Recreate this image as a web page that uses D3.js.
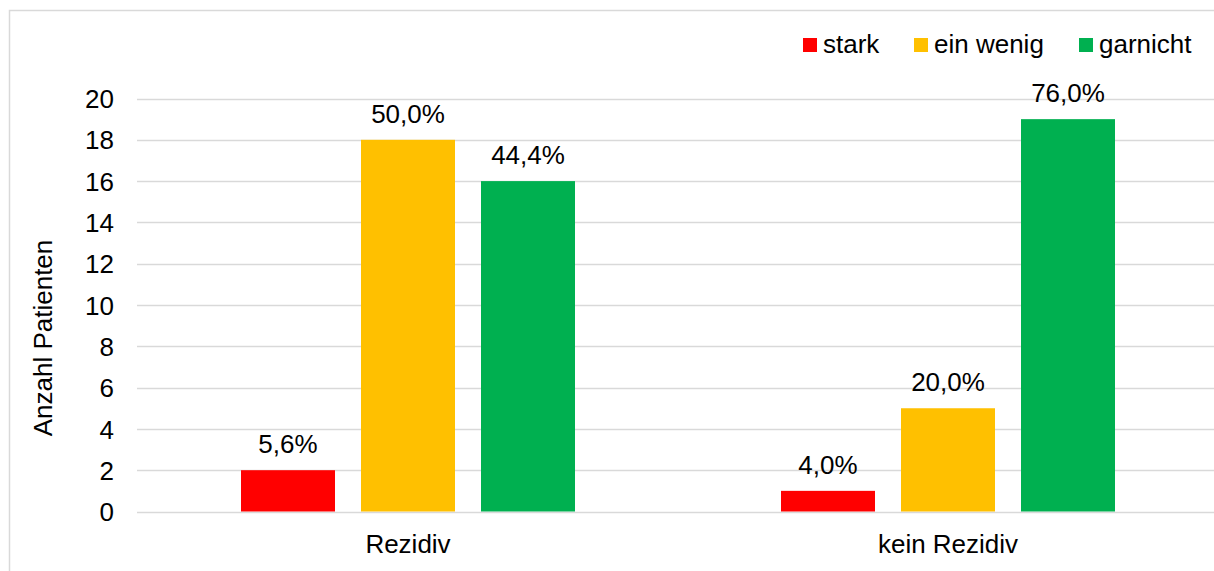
<!DOCTYPE html>
<html>
<head>
<meta charset="utf-8">
<script src="https://cdn.jsdelivr.net/npm/d3@7"></script>
<style>
  html, body { margin: 0; padding: 0; background: #fff; }
  svg { display: block; font-family: "Liberation Sans", Arial, sans-serif; }
</style>
</head>
<body>
<svg id="chart" width="1214" height="571"></svg>
<script>
// Patient counts per group and intensity
const categories = ["Rezidiv", "kein Rezidiv"];
const seriesNames = ["stark", "ein wenig", "garnicht"];
const stark = [2, 1];
const einWenig = [18, 5];
const garnicht = [16, 19];
const yTicks = [0, 2, 4, 6, 8, 10, 12, 14, 16, 18, 20];
const colors = ["#FF0000", "#FFC000", "#00B050"];

const seriesValues = [stark, einWenig, garnicht];

const FONT = "Liberation Sans, Arial, sans-serif";
const FS = 26;

const svg = d3.select("#chart");
const W = 1214, H = 571;

// outer frame
svg.append("rect")
  .attr("x", 9.5).attr("y", 10.5)
  .attr("width", W + 10).attr("height", H + 10)
  .attr("fill", "#fff").attr("stroke", "#D9D9D9").attr("stroke-width", 1.5);

const plot = { left: 138, right: 1218, top: 98.5, bottom: 511.5 };

const x0 = d3.scaleBand().domain(categories).range([plot.left, plot.right]).paddingInner(0).paddingOuter(0);
const x1 = d3.scaleBand().domain(seriesNames).range([0, x0.bandwidth()])
  .paddingInner(26 / 120).paddingOuter(103 / 120);
const y = d3.scaleLinear().domain([0, 20]).range([plot.bottom, plot.top]);

// gridlines
svg.append("g")
  .selectAll("line").data(yTicks).join("line")
  .attr("x1", 137).attr("x2", W)
  .attr("y1", d => Math.round(y(d)) + 0.5).attr("y2", d => Math.round(y(d)) + 0.5)
  .attr("stroke", "#D9D9D9").attr("stroke-width", 1.3);

// y axis labels
const yAxis = d3.axisLeft(y).tickValues(yTicks).tickSize(0).tickPadding(0);
const gy = svg.append("g").attr("transform", "translate(114,0)").call(yAxis);
gy.select(".domain").remove();
gy.selectAll("text")
  .attr("font-family", FONT)
  .attr("font-size", FS).attr("fill", "#000").attr("dy", "0.35em");

// x axis labels
const xAxis = d3.axisBottom(x0).tickSize(0).tickPadding(0);
const gx = svg.append("g").attr("transform", `translate(0,${plot.bottom})`).call(xAxis);
gx.select(".domain").remove();
gx.selectAll("text")
  .attr("font-family", FONT)
  .attr("font-size", FS).attr("fill", "#000").attr("y", 41).attr("dy", 0);

// axis title
svg.append("text")
  .attr("transform", "translate(52,338) rotate(-90)")
  .attr("text-anchor", "middle")
  .attr("font-family", FONT)
  .attr("font-size", FS).attr("fill", "#000")
  .text("Anzahl Patienten");

// bars and percentage labels
const fmt = v => d3.format(".1f")(v).replace(".", ",") + "%";
const groups = svg.append("g").selectAll("g").data(categories).join("g")
  .attr("transform", d => `translate(${x0(d)},0)`);

groups.each(function(cat, ci) {
  const total = d3.sum(seriesValues, s => s[ci]);
  const items = seriesNames.map((name, si) => ({ name, si, v: seriesValues[si][ci], pct: 100 * seriesValues[si][ci] / total }));
  const g = d3.select(this);
  g.selectAll("rect").data(items).join("rect")
    .attr("x", d => x1(d.name))
    .attr("y", d => y(d.v))
    .attr("width", x1.bandwidth())
    .attr("height", d => y(0) - y(d.v))
    .attr("fill", d => colors[d.si]);
  g.selectAll("text").data(items).join("text")
    .attr("x", d => x1(d.name) + x1.bandwidth() / 2)
    .attr("y", d => y(d.v) - 17)
    .attr("text-anchor", "middle")
    .attr("font-family", FONT)
    .attr("font-size", FS).attr("fill", "#000")
    .text(d => fmt(d.pct));
});

// legend
const legendX = [803, 914, 1079];
const legend = svg.append("g").selectAll("g").data(seriesNames).join("g")
  .attr("transform", (d, i) => `translate(${legendX[i]},38)`);
legend.append("rect").attr("width", 14).attr("height", 14).attr("fill", (d, i) => colors[i]);
legend.append("text").attr("x", 20).attr("y", 15)
  .attr("font-family", FONT)
  .attr("font-size", FS).attr("fill", "#000").text(d => d);
</script>
</body>
</html>
